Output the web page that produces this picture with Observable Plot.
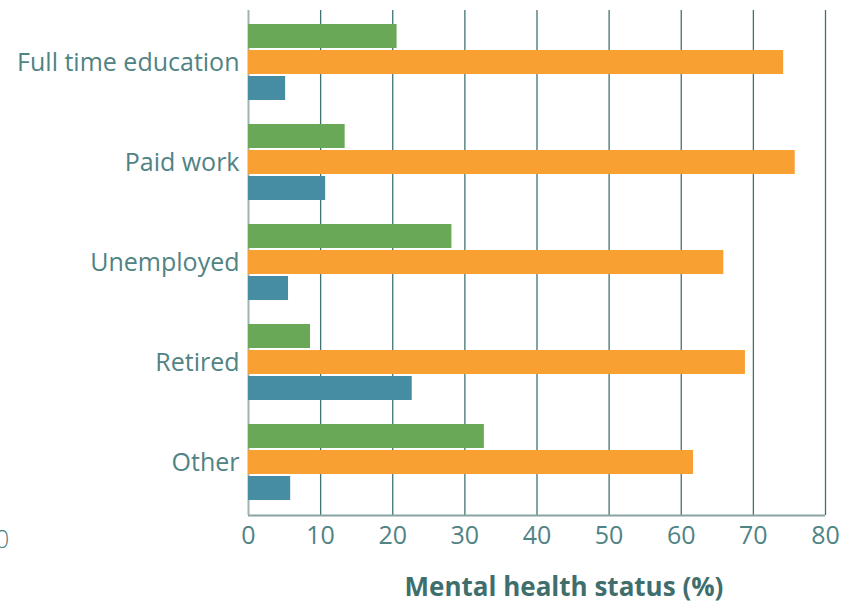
<!DOCTYPE html>
<html><head><meta charset="utf-8">
<script src="https://cdn.jsdelivr.net/npm/d3@7"></script>
<script src="https://cdn.jsdelivr.net/npm/@observablehq/plot@0.6"></script>
<style>
body{margin:0;background:#fff;font-family:"Open Sans",sans-serif;}
#wrap{position:relative;width:847px;height:603px;overflow:hidden;background:#fff;}
#bg,#fg{position:absolute;left:0;top:0;}
#xlabel{position:absolute;left:385px;width:358px;top:568px;text-align:center;font-size:26px;font-weight:700;color:#3f6f6d;white-space:nowrap;}
#stray{position:absolute;left:-5px;top:521px;font-size:25px;font-weight:300;color:#4f8384;}
</style></head><body>
<div id="wrap"><div id="bg"></div><div id="fg"></div><div id="xlabel">Mental health status (%)</div><div id="stray">0</div></div>
<script>
const categories = ["Full time education", "Paid work", "Unemployed", "Retired", "Other"];
const series = ["Series 1", "Series 2", "Series 3"];
const series1 = [20.6, 13.4, 28.2, 8.6, 32.7];
const series2 = [74.2, 75.8, 65.9, 68.9, 61.7];
const series3 = [5.15, 10.7, 5.55, 22.7, 5.85];
const xTicks = [0, 10, 20, 30, 40, 50, 60, 70, 80];
const colors = ["#69a856", "#f8a032", "#468ca3"];

const values = [series1, series2, series3];
const data = categories.flatMap((c, i) => series.map((s, j) => ({category: c, series: s, value: values[j][i]})));

const common = {
  width: 847, height: 560,
  marginLeft: 248, marginRight: 22, marginTop: 10, marginBottom: 45
};

const bg = Plot.plot({
  ...common,
  style: {fontFamily: "'Open Sans', sans-serif", fontSize: "25px", color: "#4f8384", background: "#fff", overflow: "visible"},
  x: {domain: [0, 80], ticks: xTicks, tickSize: 0, tickPadding: 11, label: null, fontWeight: 300},
  y: {domain: [0, 1], axis: null},
  marks: [
    Plot.ruleX(xTicks.filter(d => d > 0), {x: d => d, stroke: "#3f7371", strokeWidth: 1.3}),
    Plot.ruleX([0], {x: d => d, stroke: "#9db4b4", strokeWidth: 2}),
    Plot.ruleY([0], {y: d => d, stroke: "#8aa3a3", strokeWidth: 2})
  ]
});
document.getElementById("bg").appendChild(bg);

const fg = Plot.plot({
  ...common,
  style: {fontFamily: "'Open Sans', sans-serif", fontSize: "25px", color: "#4f8384", background: "transparent", overflow: "visible"},
  x: {domain: [0, 80], axis: null},
  fy: {domain: categories, paddingInner: 0.213, paddingOuter: 0.12, label: null, tickSize: 0, tickPadding: 9, fontWeight: 300},
  y: {domain: series, paddingInner: 0.074, paddingOuter: 0, axis: null},
  color: {domain: series, range: colors},
  marks: [
    Plot.barX(data, {fy: "category", y: "series", x: "value", fill: "series"})
  ]
});
document.getElementById("fg").appendChild(fg);
</script>
</body></html>
